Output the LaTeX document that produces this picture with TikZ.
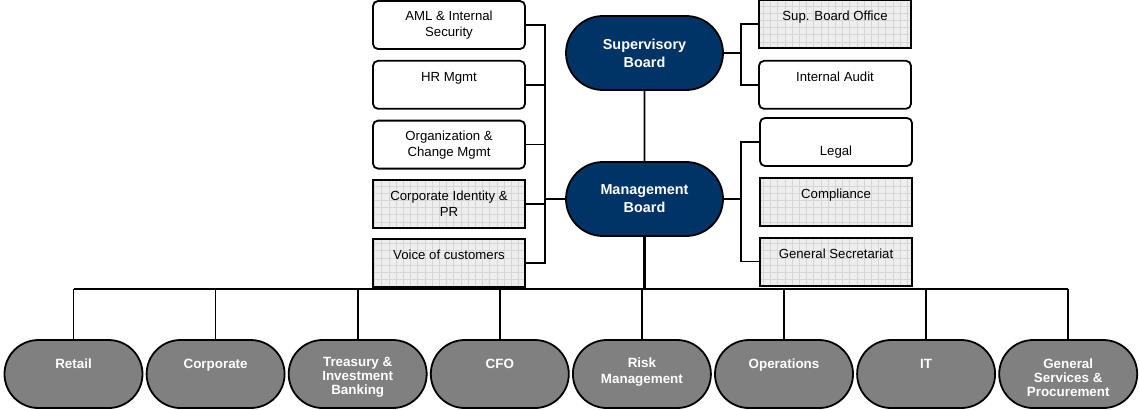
\documentclass[tikz,border=0pt]{standalone}
\usepackage{fontspec}
\setmainfont{Liberation Sans}
\usepackage{tikz}
\usetikzlibrary{positioning,shapes.misc,patterns.meta}
\definecolor{navy}{RGB}{0,51,102}
\definecolor{unitgray}{RGB}{128,128,128}
\newcommand{\topstrut}{\rule{0pt}{8.4pt}}

\begin{document}
\begin{tikzpicture}[x=0.5pt,y=-0.5pt,node distance=5pt]
      \tikzstyle{box}=[draw,line width=0.9pt,minimum width=76pt,minimum height=24pt,inner sep=1pt,align=center,font=\fontsize{6.6}{8}\selectfont]
      \tikzstyle{wbox}=[box,rounded corners=2.5pt,fill=white]
      \tikzstyle{gbox}=[box,preaction={fill=gray!13},pattern={Hatch[distance=3.6pt,line width=0.25pt]},pattern color=gray!32]
      \tikzstyle{board}=[rounded rectangle,draw,line width=0.9pt,fill=navy,text=white,minimum width=78.5pt,minimum height=37pt,inner sep=0pt,align=center,font=\fontsize{7.2}{9}\selectfont\bfseries]
      \tikzstyle{unit}=[rounded rectangle,draw,line width=0.9pt,fill=unitgray,text=white,minimum width=69pt,minimum height=34pt,inner sep=0pt,align=center,font=\fontsize{6.7}{7}\selectfont\bfseries]
      \tikzstyle{conn}=[line width=0.8pt]
      \useasboundingbox (0,0) rectangle (1139,409);
      % boards
      \node[board] (sb) at (644.5,53) {Supervisory\\Board};
      \node[board] (mb) at (644.5,199) {Management\\Board};
      % staff units, left
      \node[wbox] (aml) at (449,25) {AML \& Internal\\Security};
      \node[wbox,below=of aml] (hr) {HR Mgmt\\\mbox{}};
      \node[wbox,below=of hr] (org) {Organization \&\\Change Mgmt};
      \node[gbox,below=of org] (ci) {Corporate Identity \&\\PR};
      \node[gbox,below=of ci] (voc) {Voice of customers\\\mbox{}};
      % staff units, right
      \node[gbox] (sbo) at (835,24) {Sup. Board Office\\\mbox{}};
      \node[wbox,below=5.5pt of sbo] (audit) {Internal Audit\\\mbox{}};
      \node[wbox] (legal) at (836,142) {\strut\\[1.5pt]Legal};
      \node[gbox,below=of legal] (comp) {Compliance\\\mbox{}};
      \node[gbox,below=of comp] (gsec) {General Secretariat\\\mbox{}};
      % business units
      \node[unit] (retail) at (73.5,374) {\topstrut Retail\\\mbox{}\\\mbox{}};
      \node[unit,right=1.15pt of retail] (corp) {\topstrut Corporate\\\mbox{}\\\mbox{}};
      \node[unit,right=1.15pt of corp] (tib) {\topstrut Treasury \&\\Investment\\Banking};
      \node[unit,right=1.15pt of tib] (cfo) {\topstrut CFO\\\mbox{}\\\mbox{}};
      \node[unit,right=1.15pt of cfo] (risk) {\topstrut Risk\\[1.2pt]Management\\\mbox{}};
      \node[unit,right=1.15pt of risk] (ops) {\topstrut Operations\\\mbox{}\\\mbox{}};
      \node[unit,right=1.15pt of ops] (it) {\topstrut IT\\\mbox{}\\\mbox{}};
      \node[unit,right=1.15pt of it] (gsp) {\topstrut General\\Services \&\\Procurement};
      \coordinate (lx) at (545,0);
      \coordinate (rx) at (741,0);
      \coordinate (bus) at (0,289);
      % board to board
      \draw[conn] (sb) -- (mb);
      % left bracket
      \draw[conn] (aml.east) -- (aml.east -| lx) -- (voc.east -| lx) -- (voc.east);
      \foreach \n in {hr,org,ci}
        \draw[conn] (\n.east) -- (\n.east -| lx);
      \draw[conn] (mb.west) -- (mb.west -| lx);
      % right brackets
      \draw[conn] (sbo.west) -- (sbo.west -| rx) -- (audit.west -| rx) -- (audit.west);
      \draw[conn] (sb.east) -- (sb.east -| rx);
      \draw[conn] (legal.west) -- (legal.west -| rx) -- (gsec.west -| rx) -- (gsec.west);
      \draw[conn] (mb.east) -- (mb.east -| rx);
      % business line bus
      \draw[line width=1.6pt] (mb.south) -- (mb.south |- bus);
      \draw[line width=1pt] (retail.north |- bus) -- (gsp.north |- bus);
      \foreach \n in {retail,corp,tib,cfo,risk,ops,it,gsp}
        \draw[conn] (\n.north) -- (\n.north |- bus);
    \end{tikzpicture}
\end{document}
